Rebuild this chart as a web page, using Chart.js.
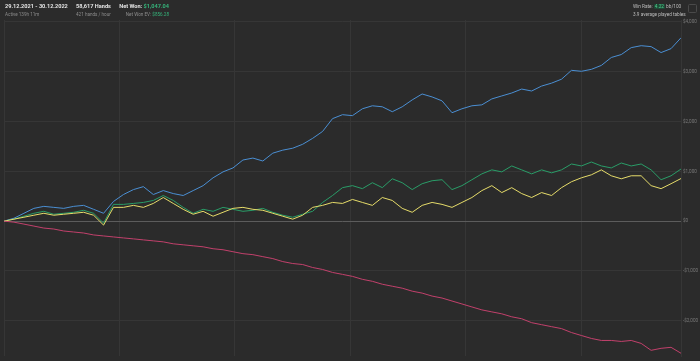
<!DOCTYPE html>
<html>
<head>
<meta charset="utf-8">
<script src="https://cdn.jsdelivr.net/npm/chart.js@4/dist/chart.umd.min.js"></script>
<style>
  html, body { margin: 0; padding: 0; background: #2b2b2b; }
  #wrap { position: relative; width: 700px; height: 361px; overflow: hidden; font-family: Roboto, "Noto Sans", sans-serif; }
  #chart { position: absolute; left: 0; top: 0; }
  .txt { position: absolute; white-space: nowrap; }
  .big { font-weight: bold; font-size: 5.6px; line-height: 6px; color: #e4e4e4; top: 3.4px; }
  .small { font-size: 4.6px; line-height: 5px; color: #8c8c8c; top: 11.5px; }
  .green { color: #35b37a; }
  .wr { font-size: 4.7px; line-height: 5px; color: #bdbdbd; top: 3.8px; }
  .badge { background: #1e4a36; color: #4fd08e; padding: 0 1px; border-radius: 1px; }
  #icon { position: absolute; left: 688px; top: 4px; width: 7px; height: 7px; border: 1px solid #4a4a4a; border-radius: 1.5px; }
</style>
</head>
<body>
<div id="wrap">
  <canvas id="chart" width="700" height="361"></canvas>
  <div class="txt big" style="left:5px">29.12.2021 - 30.12.2022</div>
  <div class="txt small" style="left:5px">Active 139h 11m</div>
  <div class="txt big" style="left:76px">58,617 Hands</div>
  <div class="txt small" style="left:76px">421 hands / hour</div>
  <div class="txt big" style="right:531px">Net Won: <span class="green">$1,047.04</span></div>
  <div class="txt small" style="right:531px">Net Won EV: <span class="green">$856.28</span></div>
  <div class="txt wr" style="left:633px">Win Rate: <span class="badge">4.22</span> bb/100</div>
  <div class="txt wr" style="left:633px; top:11.8px">3.9 average played tables</div>
  <div id="icon"></div>
</div>
<script>
'use strict';

/***** DATA *****/
var hands = [0, 862, 1724, 2586, 3448, 4310, 5172, 6034, 6896, 7758,
   8620, 9482, 10344, 11206, 12068, 12930, 13792, 14654, 15516, 16378,
   17240, 18102, 18964, 19826, 20688, 21550, 22412, 23274, 24136, 24998,
   25860, 26722, 27584, 28446, 29308, 30170, 31032, 31894, 32756, 33618,
   34480, 35342, 36204, 37066, 37928, 38790, 39652, 40514, 41376, 42238,
   43100, 43962, 44824, 45686, 46548, 47410, 48272, 49134, 49996, 50858,
   51720, 52582, 53444, 54306, 55168, 56030, 56892, 57754, 58617];

// showdown winnings (blue)
var showdown = [0, 59, 158, 257, 297, 277, 257, 297, 317, 238,
   158, 396, 535, 634, 693, 535, 614, 554, 515, 614,
   713, 871, 990, 1069, 1228, 1267, 1208, 1366, 1426, 1465,
   1544, 1663, 1802, 2059, 2138, 2119, 2257, 2317, 2297, 2198,
   2297, 2435, 2554, 2495, 2416, 2178, 2257, 2317, 2336, 2455,
   2515, 2574, 2653, 2614, 2713, 2772, 2851, 3029, 3010, 3049,
   3128, 3287, 3346, 3485, 3524, 3505, 3386, 3465, 3683];

// net won (green)
var netWon = [0, 40, 99, 158, 198, 139, 158, 178, 218, 158,
   -40, 337, 337, 356, 376, 416, 515, 416, 277, 158,
   238, 198, 277, 238, 198, 218, 257, 178, 119, 79,
   139, 198, 376, 515, 673, 713, 653, 772, 673, 851,
   772, 634, 752, 812, 832, 634, 713, 832, 950, 1030,
   990, 1109, 1030, 950, 1030, 970, 1030, 1148, 1109, 1188,
   1109, 1069, 1168, 1109, 1148, 1030, 832, 911, 1047];

// all-in EV (yellow)
var netWonEv = [0, 40, 79, 119, 158, 119, 139, 158, 178, 119,
   -79, 277, 277, 317, 277, 356, 475, 356, 238, 139,
   198, 99, 178, 257, 277, 238, 218, 158, 99, 40,
   119, 277, 317, 376, 356, 436, 376, 317, 475, 416,
   257, 178, 317, 376, 337, 277, 376, 475, 614, 713,
   574, 673, 554, 475, 574, 515, 673, 792, 871, 931,
   1030, 911, 851, 911, 911, 713, 653, 752, 856];

// non-showdown winnings (red)
var nonShowdown = [0, -20, -59, -99, -139, -158, -198, -218, -238, -277,
   -297, -317, -337, -356, -376, -396, -416, -455, -475, -495,
   -515, -554, -574, -614, -653, -673, -713, -752, -812, -851,
   -871, -931, -970, -1030, -1069, -1109, -1168, -1208, -1267, -1307,
   -1346, -1406, -1445, -1505, -1544, -1604, -1663, -1723, -1782, -1822,
   -1861, -1921, -1960, -2039, -2079, -2119, -2158, -2237, -2297, -2356,
   -2396, -2396, -2416, -2396, -2455, -2594, -2554, -2534, -2653];

var yTicks = [-2000, -1000, 0, 1000, 2000, 3000, 4000];
var xTicks = [0, 10000, 20000, 30000, 40000, 50000];

/***** CHART *****/
function toPoints (values) {
   return values.map(function (v, i) { return { x: hands[i], y: v }; });
}

function makeSet (values, color) {
   return {
      data: toPoints(values),
      borderColor: color,
      borderWidth: 1,
      pointRadius: 0,
      tension: 0,
      fill: false
   };
}

function formatMoney (v) {
   var s = '$' + Math.abs(v).toLocaleString('en-US');
   return v < 0 ? '-' + s : s;
}

var ctx = document.getElementById('chart');
new Chart(ctx, {
   type: 'line',
   data: {
      datasets: [
         makeSet(nonShowdown, '#c2416c'),
         makeSet(netWonEv, '#e6dc6a'),
         makeSet(netWon, '#2a9d68'),
         makeSet(showdown, '#4b8fd3')
      ]
   },
   options: {
      responsive: false,
      animation: false,
      events: [],
      layout: { padding: { left: 4, top: 20, right: 0, bottom: 0 } },
      plugins: { legend: { display: false }, tooltip: { enabled: false } },
      scales: {
         x: {
            type: 'linear',
            min: 0,
            max: 58617,
            afterBuildTicks: function (scale) {
               scale.ticks = xTicks.map(function (v) { return { value: v }; });
            },
            ticks: { display: false },
            grid: { color: '#363636', lineWidth: 1, drawTicks: false },
            border: { display: false }
         },
         y: {
            position: 'right',
            min: -2713,
            max: 4040,
            afterBuildTicks: function (scale) {
               scale.ticks = yTicks.map(function (v) { return { value: v }; });
            },
            afterFit: function (scale) { scale.width = 19; },
            ticks: {
               color: '#7a7a7a',
               font: { family: 'Roboto', size: 4.6 },
               padding: 2,
               callback: function (v) { return formatMoney(v); }
            },
            grid: {
               drawTicks: false,
               lineWidth: 1,
               color: function (c) { return c.tick && c.tick.value === 0 ? '#5c5c5c' : '#363636'; }
            },
            border: { display: true, color: '#363636' }
         }
      }
   }
});
</script>
</body>
</html>
